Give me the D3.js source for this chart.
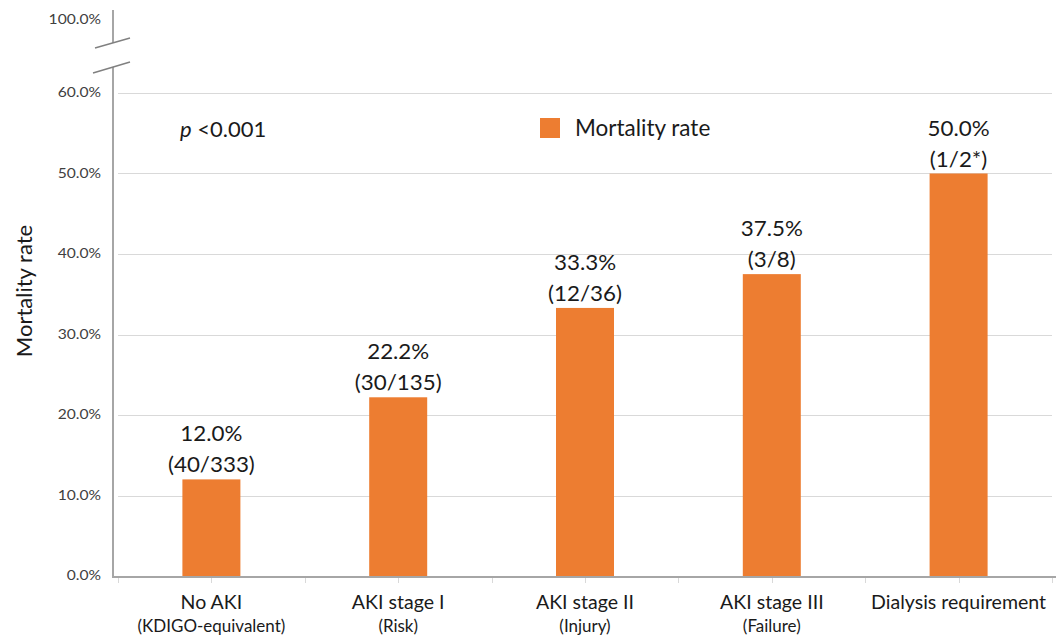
<!DOCTYPE html>
<html>
<head>
<meta charset="utf-8">
<script src="https://cdn.jsdelivr.net/npm/d3@7"></script>
<style>
  html, body { margin: 0; padding: 0; background: #fff; }
  svg { display: block; font-family: Lato, "Open Sans", sans-serif; }
</style>
</head>
<body>
<svg id="chart" width="1060" height="639"></svg>
<script>
// Mortality by AKI stage
const categories = ["No AKI", "AKI stage I", "AKI stage II", "AKI stage III", "Dialysis requirement"];
const subLabels = ["(KDIGO-equivalent)", "(Risk)", "(Injury)", "(Failure)", ""];
const rates = [12.0, 22.2, 33.3, 37.5, 50.0];
const counts = ["(40/333)", "(30/135)", "(12/36)", "(3/8)", "(1/2*)"];
const yTicks = [0, 10, 20, 30, 40, 50, 60, 100];
const gridTicks = [10, 20, 30, 40, 50, 60];

const svg = d3.select("#chart");
const barColor = "#ED7D31";
const axisColor = "#a6a6a6";
const gridColor = "#d9d9d9";
const textColor = "#1a1a1a";

const axisX = 113, baseY = 577;

// Broken y scale: 0–60% linear, then a compressed jump to 100%
const y = d3.scaleLinear().domain([0, 60, 100]).range([576, 93, 20]);
const x = d3.scaleBand().domain(categories).range([118, 1052]).padding(0);
const cx = c => x(c) + x.bandwidth() / 2;
const barW = 58;

// Text with a slight horizontal widening
function wideText(sel, sx) {
  return sel.attr("transform", function () {
    const t = d3.select(this);
    return `translate(${t.attr("data-x")},${t.attr("data-y")}) scale(${sx},1)`;
  });
}

// Gridlines
svg.append("g").selectAll("line").data(gridTicks).join("line")
  .attr("x1", 118).attr("x2", 1052)
  .attr("y1", d => Math.round(y(d)) + 0.5).attr("y2", d => Math.round(y(d)) + 0.5)
  .attr("stroke", gridColor).attr("stroke-width", 1);

// Y tick labels
svg.append("g").selectAll("text").data(yTicks).join("text")
  .attr("data-x", 101).attr("data-y", d => y(d))
  .attr("dy", "0.35em").attr("text-anchor", "end")
  .attr("font-size", 12.5).attr("fill", "#404040")
  .text(d => d.toFixed(1) + "%")
  .call(wideText, 1.25);

// Bars
svg.append("g").selectAll("rect").data(rates).join("rect")
  .attr("x", (d, i) => cx(categories[i]) - barW / 2)
  .attr("width", barW)
  .attr("y", d => y(d))
  .attr("height", d => y(0) - y(d))
  .attr("fill", barColor);

// Value labels
const vl = svg.append("g").attr("text-anchor", "middle").attr("font-size", 21.5).attr("fill", textColor);
vl.selectAll("text.pct").data(rates).join("text").attr("class", "pct")
  .attr("data-x", (d, i) => cx(categories[i]))
  .attr("data-y", d => y(d) - 38)
  .text(d => d.toFixed(1) + "%")
  .call(wideText, 1.04);
vl.selectAll("text.cnt").data(rates).join("text").attr("class", "cnt")
  .attr("data-x", (d, i) => cx(categories[i]))
  .attr("data-y", d => y(d) - 7)
  .text((d, i) => counts[i])
  .call(wideText, 1.04);

// X axis line and ticks
svg.append("line").attr("x1", axisX).attr("x2", 1056).attr("y1", baseY).attr("y2", baseY)
  .attr("stroke", axisColor).attr("stroke-width", 2);
const tickPos = [];
categories.forEach(c => { tickPos.push(x(c)); tickPos.push(cx(c)); });
tickPos.push(x.range()[1]);
svg.append("g").selectAll("line").data(tickPos).join("line")
  .attr("x1", d => Math.round(d) + 0.5).attr("x2", d => Math.round(d) + 0.5)
  .attr("y1", baseY + 1).attr("y2", baseY + 6)
  .attr("stroke", gridColor).attr("stroke-width", 1);

// Y axis line with break marks
svg.append("line").attr("x1", axisX).attr("x2", axisX).attr("y1", baseY + 1).attr("y2", 67)
  .attr("stroke", axisColor).attr("stroke-width", 2);
svg.append("line").attr("x1", axisX).attr("x2", axisX).attr("y1", 43).attr("y2", 10)
  .attr("stroke", axisColor).attr("stroke-width", 2);
svg.append("line").attr("x1", 95).attr("y1", 48).attr("x2", 130).attr("y2", 38)
  .attr("stroke", "#808080").attr("stroke-width", 1.5);
svg.append("line").attr("x1", 93).attr("y1", 73).attr("x2", 130).attr("y2", 62)
  .attr("stroke", "#808080").attr("stroke-width", 1.5);

// Category labels
const cl = svg.append("g").attr("text-anchor", "middle").attr("fill", textColor);
cl.selectAll("text.cat").data(categories).join("text").attr("class", "cat")
  .attr("data-x", d => cx(d)).attr("data-y", 609)
  .attr("font-size", 19).text(d => d)
  .call(wideText, 1.03);
cl.selectAll("text.sub").data(subLabels).join("text").attr("class", "sub")
  .attr("data-x", (d, i) => cx(categories[i])).attr("data-y", 632)
  .attr("font-size", 16.5).text(d => d)
  .call(wideText, 1.03);

// Y axis title
svg.append("text")
  .attr("transform", "translate(32,291) rotate(-90)")
  .attr("text-anchor", "middle").attr("font-size", 22).attr("fill", textColor)
  .text("Mortality rate");

// p-value annotation
const pv = svg.append("text").attr("x", 180).attr("y", 137).attr("font-size", 22).attr("fill", textColor);
pv.append("tspan").attr("font-style", "italic").text("p");
pv.append("tspan").text(" <0.001");

// Legend
svg.append("rect").attr("x", 540).attr("y", 118).attr("width", 20).attr("height", 20).attr("fill", barColor);
svg.append("text").attr("x", 575).attr("y", 136).attr("font-size", 22.5).attr("fill", textColor)
  .text("Mortality rate");
</script>
</body>
</html>
